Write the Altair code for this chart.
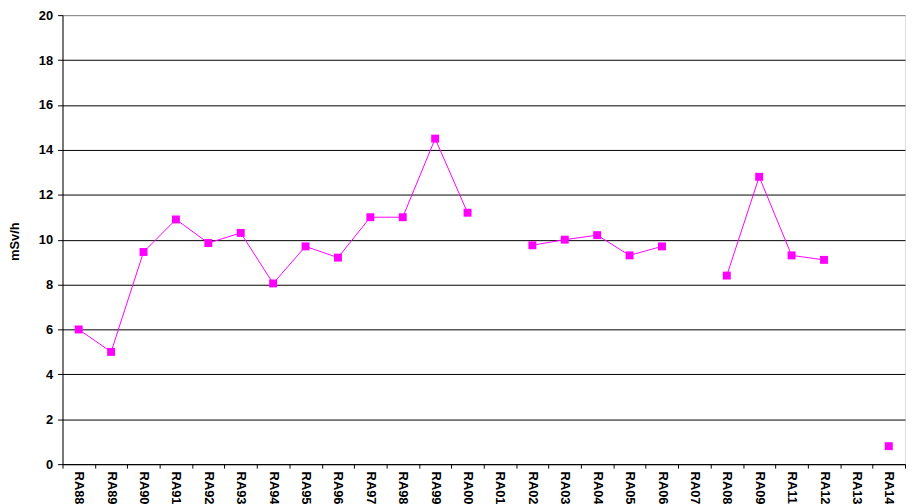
import altair as alt
import pandas as pd

categories = ["RA88", "RA89", "RA90", "RA91", "RA92", "RA93", "RA94", "RA95", "RA96",
              "RA97", "RA98", "RA99", "RA00", "RA01", "RA02", "RA03", "RA04", "RA05",
              "RA06", "RA07", "RA08", "RA09", "RA11", "RA12", "RA13", "RA14"]
values = [6.0, 5.0, 9.45, 10.9, 9.85, 10.3, 8.05, 9.7, 9.2,
          11.0, 11.0, 14.5, 11.2, None, 9.75, 10.0, 10.2, 9.3,
          9.7, None, 8.4, 12.8, 9.3, 9.1, None, 0.8]
y_ticks = [0, 2, 4, 6, 8, 10, 12, 14, 16, 18, 20]

# segment ids so the line breaks at missing values
seg = []
s = 0
for v in values:
    if v is None:
        s += 1
    seg.append(s)

df = pd.DataFrame({"cat": categories, "val": values, "seg": seg})
df = df[df["val"].notna()]

FONT = "Liberation Sans"

x = alt.X(
    "cat:N",
    sort=categories,
    scale=alt.Scale(domain=categories, paddingInner=0, paddingOuter=0),
    axis=alt.Axis(
        title=None,
        labelAngle=90,
        labelAlign="left",
        labelBaseline="middle",
        labelFont=FONT,
        labelFontWeight="bold",
        labelFontSize=13,
        labelColor="black",
        labelPadding=3,
        tickBand="extent",
        tickSize=4,
        tickColor="black",
        domainColor="black",
        grid=False,
        labelOverlap=False,
    ),
)
y = alt.Y(
    "val:Q",
    scale=alt.Scale(domain=[0, 20], nice=False, zero=True),
    axis=alt.Axis(
        title="mSv/h",
        values=y_ticks,
        titleFont=FONT,
        titleFontWeight="bold",
        titleFontSize=13,
        titleColor="black",
        titleX=-48,
        titleY=228,
        titleAlign="center",
        titleBaseline="middle",
        labelFont=FONT,
        labelFontWeight="bold",
        labelFontSize=13,
        labelColor="black",
        labelPadding=5,
        tickSize=5,
        tickColor="black",
        domainColor="black",
        grid=True,
        gridColor={"condition": {"test": "datum.value == 20", "value": "#808080"}, "value": "black"},
        gridOpacity=1,
        gridWidth=1,
    ),
)

line = alt.Chart(df).mark_line(color="#FF00FF", strokeWidth=1).encode(
    x=x, y=y, detail="seg:N"
)
pts = alt.Chart(df).mark_square(color="#FF00FF", size=64, opacity=1).encode(x=x, y=y)

chart = (
    alt.layer(line, pts)
    .properties(
        width=850,
        height=453,
        autosize=alt.AutoSizeParams(type="none"),
        padding={"left": 55, "top": 5, "right": 1, "bottom": 40},
    )
    .configure_view(fill="#C0C0C0", stroke="#808080", strokeWidth=1)
    .configure(background="white")
)

chart.save("out.html", embed_options={"renderer": "svg", "actions": False})
